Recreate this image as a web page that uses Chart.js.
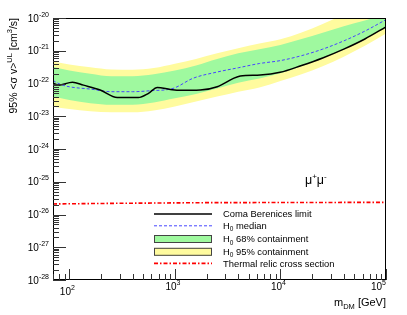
<!DOCTYPE html>
<html><head><meta charset="utf-8">
<script src="https://cdn.jsdelivr.net/npm/chart.js@4/dist/chart.umd.min.js"></script>
<style>html,body{margin:0;padding:0;background:#fff}canvas{display:block}</style>
</head><body>
<canvas id="c" width="407" height="315"></canvas>
<script>
// ---- data ----
const limitMass = [70, 79, 107, 136, 196, 284, 450, 562, 681, 904, 1122, 1738, 2518, 3548, 4169, 6427, 9931, 15850, 25120, 39810, 63100, 100000];
const limitValues = [1.02e-22, 8.91e-23, 1.10e-22, 8.91e-23, 6.31e-23, 3.72e-23, 3.72e-23, 5.01e-23, 7.59e-23, 6.61e-23, 6.17e-23, 6.31e-23, 7.94e-23, 1.41e-22, 1.70e-22, 1.82e-22, 2.19e-22, 3.55e-22, 6.03e-22, 1.12e-21, 2.29e-21, 5.37e-21];

const medianMass = [70, 83, 100, 158, 251, 398, 589, 960, 1490, 2512, 3981, 6310, 10000, 15850, 25120, 39810, 63100, 100000];
const medianValues = [1.23e-22, 9.33e-23, 7.94e-23, 6.76e-23, 5.62e-23, 5.62e-23, 6.03e-23, 7.08e-23, 1.45e-22, 2.24e-22, 3.02e-22, 4.07e-22, 5.01e-22, 7.08e-22, 1.12e-21, 2.00e-21, 3.98e-21, 8.91e-21];

const bandMass = [70, 100, 158, 251, 398, 631, 1000, 1585, 2512, 3981, 6310, 10000, 15850, 25120, 39810, 63100, 100000];
const band95Upper = [4.68e-22, 3.80e-22, 3.16e-22, 2.69e-22, 2.63e-22, 2.95e-22, 3.98e-22, 5.62e-22, 8.32e-22, 1.20e-21, 1.66e-21, 2.24e-21, 3.63e-21, 6.61e-21, 1.26e-20, 2.24e-20, 3.98e-20];
const band68Upper = [3.24e-22, 2.51e-22, 2.00e-22, 1.66e-22, 1.66e-22, 1.91e-22, 2.51e-22, 3.55e-22, 5.62e-22, 8.32e-22, 1.12e-21, 1.51e-21, 2.29e-21, 3.55e-21, 5.62e-21, 8.32e-21, 1.32e-20];
const band68Lower = [3.98e-23, 3.16e-23, 2.51e-23, 2.24e-23, 2.24e-23, 2.63e-23, 3.55e-23, 4.79e-23, 7.08e-23, 1.05e-22, 1.41e-22, 2.04e-22, 3.39e-22, 5.89e-22, 1.10e-21, 2.29e-21, 5.37e-21];
const band95Lower = [1.95e-23, 1.66e-23, 1.41e-23, 1.32e-23, 1.32e-23, 1.51e-23, 2.00e-23, 2.82e-23, 3.98e-23, 5.62e-23, 7.59e-23, 1.20e-22, 1.91e-22, 3.39e-22, 6.61e-22, 1.41e-21, 3.39e-21];

const thermalMass = [70, 300, 2000, 100000];
const thermalValues = [2.1e-26, 2.2e-26, 2.3e-26, 2.35e-26];

const xTickExponents = [2, 3, 4, 5];
const yTickExponents = [-20, -21, -22, -23, -24, -25, -26, -27, -28];
const legendLabels = ['Coma Berenices limit', 'H0 median', 'H0 68% containment', 'H0 95% containment', 'Thermal relic cross section'];
const channelLabel = ['μ', '+', 'μ', '-'];

// ---- helpers ----
const FF = '"Liberation Sans", Arial, Helvetica, sans-serif';
const pts = (xs, ys) => xs.map((x, i) => ({x, y: ys[i]}));
const GREEN = '#9ff99f', YELLOW = '#fffb9e';

function runs(ctx, parts) { // parts: [text, size, dy]
  let w = 0;
  for (const p of parts) { ctx.font = p[1] + 'px ' + FF; w += ctx.measureText(p[0]).width; }
  return w;
}
function drawRuns(ctx, parts, x, y) {
  for (const p of parts) {
    ctx.font = p[1] + 'px ' + FF;
    ctx.fillText(p[0], x, y + p[2]);
    x += ctx.measureText(p[0]).width;
  }
}

const rootStyle = {
  id: 'rootStyle',
  afterDraw(chart) {
    const {ctx, chartArea: a, scales: {x, y}} = chart;
    ctx.save();
    ctx.textBaseline = 'alphabetic';
    ctx.textAlign = 'left';
    ctx.fillStyle = '#000';
    // frame
    ctx.strokeStyle = '#000'; ctx.lineWidth = 1;
    ctx.strokeRect(a.left + 0.5, a.top + 0.5, a.right - a.left - 1, a.bottom - a.top - 1);
    // y ticks
    ctx.strokeStyle = '#333';
    ctx.beginPath();
    for (let e = -28; e <= -20; e++) {
      for (let k = 1; k <= 9; k++) {
        const v = k * Math.pow(10, e);
        if (v > 1.0000001e-20) continue;
        const py = Math.round(y.getPixelForValue(v)) + 0.5;
        const len = k === 1 ? 13 : 6;
        ctx.moveTo(a.left, py); ctx.lineTo(a.left + len, py);
      }
    }
    // x ticks
    for (let d = 1; d <= 5; d++) {
      for (let k = 1; k <= 9; k++) {
        const v = k * Math.pow(10, d);
        if (v < 70 || v > 100000.1) continue;
        const px = Math.round(x.getPixelForValue(v)) + 0.5;
        const len = k === 1 ? 11 : 6;
        ctx.moveTo(px, a.bottom); ctx.lineTo(px, a.bottom - len);
      }
    }
    ctx.stroke();
    // y tick labels
    for (const e of yTickExponents) {
      const py = y.getPixelForValue(Math.pow(10, e));
      const parts = [['10', 10, 3.5], [String(e), 7, -1.5]];
      const w = runs(ctx, parts);
      drawRuns(ctx, parts, 49 - w, py);
    }
    // x tick labels
    for (const e of xTickExponents) {
      const px = x.getPixelForValue(Math.pow(10, e));
      const base = e === 2 ? 294.5 : 290;
      const parts = [['10', 10, 0], [String(e), 7, -5]];
      const w = runs(ctx, parts);
      let x0 = px - 2 - w / 2;
      if (x0 + w > a.right) x0 = a.right - w;
      drawRuns(ctx, parts, x0, base);
    }
    // x title
    {
      const parts = [['m', 11, 0], ['DM', 7.5, 2.5], [' [GeV]', 11, 0]];
      const w = runs(ctx, parts);
      drawRuns(ctx, parts, a.right - w, 306);
    }
    // y title (rotated)
    {
      const parts = [['95% <σ v>', 10.5, 0], ['UL', 7.5, -4.5], [' [cm', 10.5, 0], ['3', 7.5, -4.5], ['/s]', 10.5, 0]];
      const w = runs(ctx, parts);
      ctx.save();
      ctx.translate(16.7, a.top);
      ctx.rotate(-Math.PI / 2);
      drawRuns(ctx, parts, -w, 0);
      ctx.restore();
    }
    // channel label
    drawRuns(ctx, [[channelLabel[0], 12.5, 0], [channelLabel[1], 8, -5], [channelLabel[2], 12.5, 0], [channelLabel[3], 8, -5]], 305, 184);

    // legend
    const ds = chart.data.datasets;
    const rowY = [214, 225.8, 239, 251.8, 263.4];
    const sx0 = 154, sx1 = 212, tx = 223;
    const items = [
      {kind: 'line', d: ds[0]},
      {kind: 'line', d: ds[1]},
      {kind: 'box', color: ds[3].backgroundColor},
      {kind: 'box', color: ds[5].backgroundColor},
      {kind: 'line', d: ds[2]}
    ];
    items.forEach((it, i) => {
      const yy = rowY[i];
      if (it.kind === 'line') {
        ctx.save();
        ctx.strokeStyle = it.d.borderColor; ctx.lineWidth = it.d.borderWidth;
        ctx.setLineDash(it.d.borderDash || []);
        ctx.beginPath(); ctx.moveTo(sx0, yy); ctx.lineTo(sx1, yy); ctx.stroke();
        ctx.restore();
      } else {
        ctx.fillStyle = it.color;
        ctx.fillRect(sx0, yy - 4, sx1 - sx0, 8);
        ctx.strokeStyle = '#444'; ctx.lineWidth = 1;
        ctx.strokeRect(sx0 + 0.5, yy - 3.5, sx1 - sx0 - 1, 7);
      }
      ctx.fillStyle = '#000';
      const lab = legendLabels[i];
      const base = yy + 3.3;
      if (lab.startsWith('H0')) {
        drawRuns(ctx, [['H', 9.4, 0], ['0', 6.5, 2.2], [lab.slice(2), 9.4, 0]], tx, base);
      } else {
        drawRuns(ctx, [[lab, 9.4, 0]], tx, base);
      }
    });
    ctx.restore();
  }
};

new Chart(document.getElementById('c'), {
  type: 'line',
  data: {
    datasets: [
      {label: legendLabels[0], data: pts(limitMass, limitValues), borderColor: '#000', borderWidth: 1.5, fill: false, cubicInterpolationMode: 'monotone'},
      {label: legendLabels[1], data: pts(medianMass, medianValues), borderColor: '#4646ff', borderWidth: 1, borderDash: [3, 2], fill: false, cubicInterpolationMode: 'monotone'},
      {label: legendLabels[4], data: pts(thermalMass, thermalValues), borderColor: '#ff0000', borderWidth: 1.6, borderDash: [4, 2, 1.5, 2], fill: false, tension: 0},
      {label: legendLabels[2], data: pts(bandMass, band68Upper), borderColor: 'rgba(0,0,0,0)', borderWidth: 0, backgroundColor: GREEN, fill: '+1', cubicInterpolationMode: 'monotone'},
      {label: '68 lower', data: pts(bandMass, band68Lower), borderColor: 'rgba(0,0,0,0)', borderWidth: 0, fill: false, cubicInterpolationMode: 'monotone'},
      {label: legendLabels[3], data: pts(bandMass, band95Upper), borderColor: 'rgba(0,0,0,0)', borderWidth: 0, backgroundColor: YELLOW, fill: '+1', cubicInterpolationMode: 'monotone'},
      {label: '95 lower', data: pts(bandMass, band95Lower), borderColor: 'rgba(0,0,0,0)', borderWidth: 0, fill: false, cubicInterpolationMode: 'monotone'}
    ]
  },
  options: {
    responsive: false, animation: false, devicePixelRatio: 1,
    layout: {padding: {top: 18, right: 21, left: 0, bottom: 0}},
    elements: {point: {radius: 0}},
    plugins: {legend: {display: false}, tooltip: {enabled: false}, filler: {propagate: false}},
    scales: {
      x: {type: 'logarithmic', min: 70, max: 100000, ticks: {display: false}, grid: {display: false}, border: {display: false},
          afterFit(s) { s.height = 35; }},
      y: {type: 'logarithmic', min: 1e-28, max: 1e-20, ticks: {display: false}, grid: {display: false}, border: {display: false},
          afterFit(s) { s.width = 53; }}
    }
  },
  plugins: [rootStyle]
});
</script>
</body></html>
